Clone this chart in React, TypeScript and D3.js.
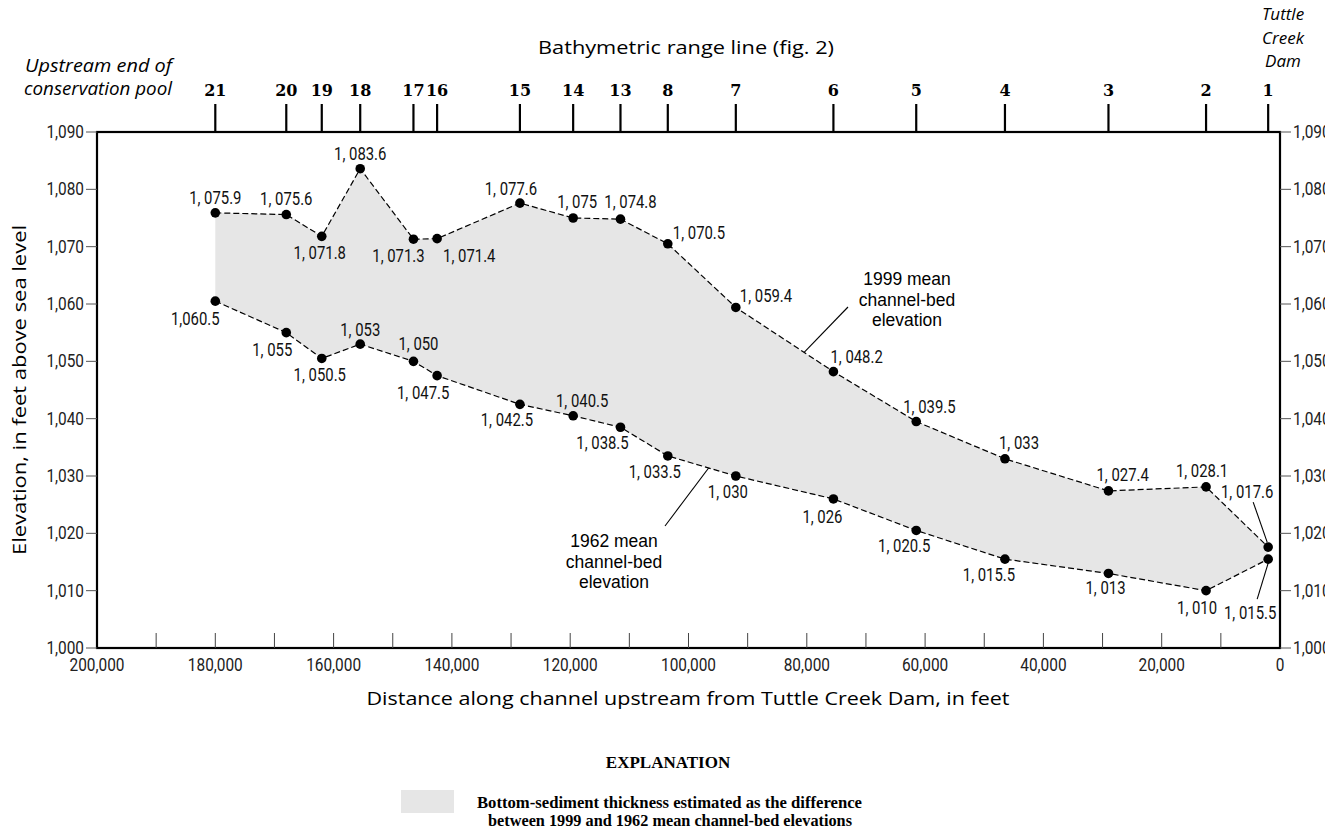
import * as d3 from 'd3';
import * as React from 'react';

// distance upstream from Tuttle Creek Dam (ft) for each range line
const rangeLines = ['21', '20', '19', '18', '17', '16', '15', '14', '13', '8', '7', '6', '5', '4', '3', '2', '1'];
const distances = [180000, 168000, 162000, 155500, 146500, 142500, 128500, 119500, 111500, 103500, 92000, 75500, 61500, 46500, 29000, 12500, 2000];
const bed1999 = [1075.9, 1075.6, 1071.8, 1083.6, 1071.3, 1071.4, 1077.6, 1075, 1074.8, 1070.5, 1059.4, 1048.2, 1039.5, 1033, 1027.4, 1028.1, 1017.6];
const bed1962 = [1060.5, 1055, 1050.5, 1053, 1050, 1047.5, 1042.5, 1040.5, 1038.5, 1033.5, 1030, 1026, 1020.5, 1015.5, 1013, 1010, 1015.5];
const labels1999 = ['1, 075.9', '1, 075.6', '1, 071.8', '1, 083.6', '1, 071.3', '1, 071.4', '1, 077.6', '1, 075', '1, 074.8', '1, 070.5', '1, 059.4', '1, 048.2', '1, 039.5', '1, 033', '1, 027.4', '1, 028.1', '1, 017.6'];
const labels1962 = ['1,060.5', '1, 055', '1, 050.5', '1, 053', '1, 050', '1, 047.5', '1, 042.5', '1, 040.5', '1, 038.5', '1, 033.5', '1, 030', '1, 026', '1, 020.5', '1, 015.5', '1, 013', '1, 010', '1, 015.5'];
const xTicks = [200000, 180000, 160000, 140000, 120000, 100000, 80000, 60000, 40000, 20000, 0];
const yTicks = [1000, 1010, 1020, 1030, 1040, 1050, 1060, 1070, 1080, 1090];

// label placement relative to each dot: [dx, dy, anchor]
type Place = [number, number, string];
const place1999: Place[] = [
  [0, -15, 'middle'], [0, -16, 'middle'], [-2, 17, 'middle'], [0, -15, 'middle'], [-15, 17, 'middle'],
  [6, 17, 'start'], [-9, -14, 'middle'], [4, -16, 'middle'], [10, -17, 'middle'], [5, -11, 'start'],
  [4, -11, 'start'], [-3, -15, 'start'], [-13, -15, 'start'], [-6, -16, 'start'], [-12, -16, 'start'],
  [-4, -16, 'middle'], [-21, -55, 'middle'],
];
const place1962: Place[] = [
  [-20, 18, 'middle'], [-14, 17, 'middle'], [-2, 17, 'middle'], [0, -14, 'middle'], [5, -17, 'middle'],
  [-14, 17, 'middle'], [-13, 16, 'middle'], [9, -15, 'middle'], [-18, 16, 'middle'], [-13, 16, 'middle'],
  [-8, 16, 'middle'], [-11, 18, 'middle'], [-12, 16, 'middle'], [-16, 16, 'middle'], [-3, 15, 'middle'],
  [-9, 17, 'middle'], [-18, 54, 'middle'],
];

const W = 1337;
const H = 835;
const M = { left: 97, right: 1280, top: 132, bottom: 648 };

const cond = "Roboto, 'Liberation Sans', sans-serif";
const sans = "'Open Sans', 'Noto Sans', Arial, sans-serif";
const plain = "'Liberation Sans', Arial, sans-serif";
const serif = "'Liberation Serif', serif";
const serifWide = "'DejaVu Serif', serif";

// condensed text: squeeze horizontally like the Univers Condensed of the figure
function CText(props: { x: number; y: number; anchor?: string; size: number; sx?: number; fill?: string; children: React.ReactNode }) {
  const { x, y, anchor = 'middle', size, sx = 0.85, fill = '#111', children } = props;
  return (
    <text transform={`translate(${x},${y}) scale(${sx},1)`} textAnchor={anchor} fontFamily={cond} fontSize={size} fill={fill}>
      {children}
    </text>
  );
}

export default function App() {
  const x = d3.scaleLinear().domain([200000, 0]).range([M.left, M.right]);
  const y = d3.scaleLinear().domain([1000, 1090]).range([M.bottom, M.top]);

  const idx = distances.map((_, i) => i);
  const area = d3.area<number>()
    .x(i => x(distances[i]))
    .y0(i => y(bed1962[i]))
    .y1(i => y(bed1999[i]));
  const line = (vals: number[]) => d3.line<number>().x(i => x(distances[i])).y(i => y(vals[i]))(idx) || '';

  const minorX = d3.range(190000, 0, -10000);
  const fmt = d3.format(',');

  const along = (vals: number[], i: number, t: number): [number, number] => [
    x(distances[i]) + (x(distances[i + 1]) - x(distances[i])) * t,
    y(vals[i]) + (y(vals[i + 1]) - y(vals[i])) * t,
  ];
  const lead99 = along(bed1999, 10, 0.7);
  const lead62 = along(bed1962, 9, 0.6);

  const last = distances.length - 1;

  return (
    <svg width={W} height={H} style={{ position: 'absolute', left: 0, top: 0, background: '#fff' }}>
      <defs>
        <clipPath id="pageClip"><rect x={0} y={0} width={1325} height={H} /></clipPath>
      </defs>

      <path d={area(idx) || ''} fill="#e6e6e6" stroke="none" />

      <rect x={M.left} y={M.top} width={M.right - M.left} height={M.bottom - M.top} fill="none" stroke="#000" strokeWidth={2.2} />

      {yTicks.map(v => (
        <g key={'y' + v}>
          <line x1={M.left - 11} x2={M.left} y1={y(v)} y2={y(v)} stroke="#555" strokeWidth={1} />
          <line x1={M.right} x2={M.right + 11} y1={y(v)} y2={y(v)} stroke="#555" strokeWidth={1} />
          <CText x={M.left - 13} y={y(v) + 6} anchor="end" size={17.5} sx={0.88} fill="#222">{fmt(v)}</CText>
          <g clipPath="url(#pageClip)">
            <CText x={M.right + 13} y={y(v) + 6} anchor="start" size={17.5} sx={0.88} fill="#222">{fmt(v)}</CText>
          </g>
        </g>
      ))}

      {minorX.map(v => (
        <line key={'m' + v} x1={x(v)} x2={x(v)} y1={M.bottom} y2={M.bottom - 15} stroke="#444" strokeWidth={1} />
      ))}
      {xTicks.map(v => (
        <CText key={'x' + v} x={x(v)} y={M.bottom + 23} size={17.5} sx={0.88} fill="#222">{fmt(v)}</CText>
      ))}

      {distances.map((d, i) => (
        <g key={'r' + i}>
          <line x1={x(d)} x2={x(d)} y1={M.top} y2={M.top - 28} stroke="#000" strokeWidth={2.2} />
          <text x={x(d)} y={M.top - 36} textAnchor="middle" fontFamily={serifWide} fontWeight="bold" fontSize={16}>{rangeLines[i]}</text>
        </g>
      ))}
      <text x={686} y={54} textAnchor="middle" fontFamily={sans} fontSize={19} textLength={296} lengthAdjust="spacingAndGlyphs">Bathymetric range line (fig. 2)</text>
      <text x={172} y={72} textAnchor="end" fontFamily={sans} fontStyle="italic" fontSize={17.5} textLength={147} lengthAdjust="spacingAndGlyphs">Upstream end of</text>
      <text x={172} y={95} textAnchor="end" fontFamily={sans} fontStyle="italic" fontSize={17.5} textLength={148} lengthAdjust="spacingAndGlyphs">conservation pool</text>
      {['Tuttle', 'Creek', 'Dam'].map((t, i) => (
        <text key={t} x={1283} y={20 + i * 23.5} textAnchor="middle" fontFamily={sans} fontStyle="italic" fontSize={17}>{t}</text>
      ))}

      <path d={line(bed1999)} fill="none" stroke="#000" strokeWidth={1.2} strokeDasharray="6,3" />
      <path d={line(bed1962)} fill="none" stroke="#000" strokeWidth={1.2} strokeDasharray="6,3" />

      {idx.map(i => (
        <g key={'p' + i}>
          <circle cx={x(distances[i])} cy={y(bed1999[i])} r={4.8} fill="#000" />
          <circle cx={x(distances[i])} cy={y(bed1962[i])} r={4.8} fill="#000" />
          <CText x={x(distances[i]) + place1999[i][0]} y={y(bed1999[i]) + place1999[i][1] + 6}
            anchor={place1999[i][2]} size={17.5}>{labels1999[i]}</CText>
          <CText x={x(distances[i]) + place1962[i][0]} y={y(bed1962[i]) + place1962[i][1] + 6}
            anchor={place1962[i][2]} size={17.5}>{labels1962[i]}</CText>
        </g>
      ))}

      <line x1={x(distances[last]) - 1} y1={y(bed1999[last]) - 5} x2={x(distances[last]) - 15} y2={y(bed1999[last]) - 45} stroke="#000" strokeWidth={1.1} />
      <line x1={x(distances[last])} y1={y(bed1962[last]) + 4} x2={x(distances[last]) - 11} y2={y(bed1962[last]) + 40} stroke="#000" strokeWidth={1.1} />

      <line x1={lead99[0]} y1={lead99[1]} x2={848} y2={307} stroke="#000" strokeWidth={1.1} />
      {['1999 mean', 'channel-bed', 'elevation'].map((t, i) => (
        <text key={t} x={907} y={285 + i * 20.5} textAnchor="middle" fontFamily={plain} fontSize={17.5}>{t}</text>
      ))}
      <line x1={lead62[0]} y1={lead62[1]} x2={665} y2={526} stroke="#000" strokeWidth={1.1} />
      {['1962 mean', 'channel-bed', 'elevation'].map((t, i) => (
        <text key={t + '62'} x={614} y={547 + i * 20.5} textAnchor="middle" fontFamily={plain} fontSize={17.5}>{t}</text>
      ))}

      <text transform={`translate(26,${(M.top + M.bottom) / 2}) rotate(-90)`} textAnchor="middle" fontFamily={sans} fontSize={19}
        textLength={330} lengthAdjust="spacingAndGlyphs">
        Elevation, in feet above sea level
      </text>
      <text x={688} y={705} textAnchor="middle" fontFamily={sans} fontSize={19} textLength={643} lengthAdjust="spacingAndGlyphs">
        Distance along channel upstream from Tuttle Creek Dam, in feet
      </text>

      <text x={668} y={768} textAnchor="middle" fontFamily={serif} fontWeight="bold" fontSize={17}>EXPLANATION</text>
      <rect x={401} y={790} width={53} height={23} fill="#e6e6e6" />
      <text x={477} y={808} fontFamily={serif} fontWeight="bold" fontSize={16} textLength={385} lengthAdjust="spacingAndGlyphs">Bottom-sediment thickness estimated as the difference</text>
      <text x={488} y={826} fontFamily={serif} fontWeight="bold" fontSize={16} textLength={364} lengthAdjust="spacingAndGlyphs">between 1999 and 1962 mean channel-bed elevations</text>
    </svg>
  );
}
